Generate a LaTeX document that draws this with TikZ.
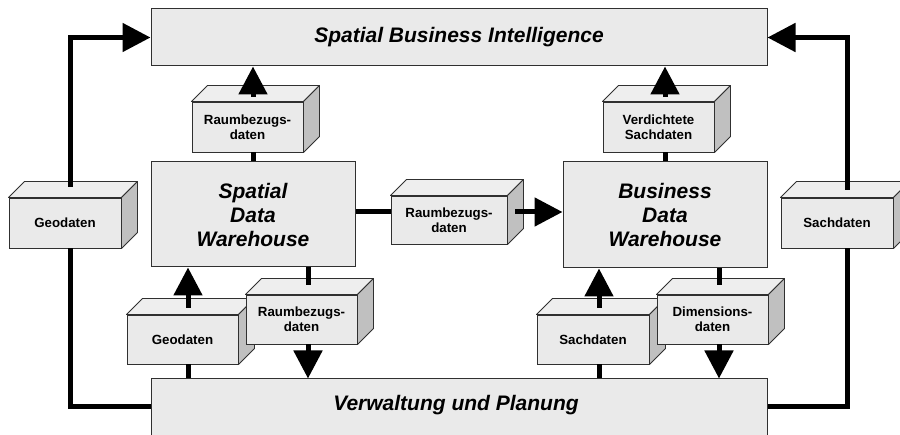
\documentclass[tikz,border=0pt]{standalone}
\usepackage{fontspec}
\setmainfont{Liberation Sans}
\usetikzlibrary{arrows.meta}
\definecolor{facegray}{HTML}{EAEAEA}
\definecolor{topgray}{HTML}{EEEEEE}
\definecolor{sidegray}{HTML}{C0C0C0}
\definecolor{edgegray}{HTML}{303030}
\newcommand{\bigfont}{\fontsize{21}{24}\selectfont\bfseries\itshape}
\newcommand{\smallfont}{\fontsize{13.3}{15}\selectfont\bfseries}
\newcommand{\cubebox}[6]{%
  \node[cube, minimum width=#4pt, minimum height=#5pt] (#1) at (#2,#3) {#6};
  \filldraw[topface] (#1.north west) -- ([shift={(16,-16)}]#1.north west) -- ([shift={(16,-16)}]#1.north east) -- (#1.north east) -- cycle;
  \filldraw[sideface] (#1.north east) -- ([shift={(16,-16)}]#1.north east) -- ([shift={(16,-16)}]#1.south east) -- (#1.south east) -- cycle;
}
\begin{document}
\begin{tikzpicture}[x=1pt,y=-1pt,
  bigbox/.style={rectangle, fill=facegray, draw=edgegray, line width=1pt, inner sep=0pt, align=center, font=\bigfont},
  cube/.style={rectangle, fill=facegray, draw=edgegray, line width=0.9pt, inner sep=1pt, align=center, font=\smallfont},
  topface/.style={fill=topgray, draw=edgegray, line width=0.9pt, line join=round},
  sideface/.style={fill=sidegray, draw=edgegray, line width=0.9pt, line join=round},
  conn/.style={line width=5pt, black},
  arr/.style={conn, -{Triangle[length=28pt,width=28pt]}}]
\useasboundingbox (0,0) rectangle (900,435);
% big boxes
\node[bigbox, minimum width=616pt, minimum height=57pt] (SBI) at (459,37.5) {Spatial Business Intelligence};
\node[bigbox, minimum width=204pt, minimum height=105pt] (SDW) at (253,214.5) {Spatial\\Data\\Warehouse};
\node[bigbox, minimum width=204pt, minimum height=106pt] (BDW) at (665,215) {Business\\Data\\Warehouse};
\node[bigbox, minimum width=616pt, minimum height=66pt] (VP) at (459,412) {};
\node[font=\bigfont, inner sep=0pt] (VPtext) at (456,405) {Verwaltung und Planung};
% cubes
\cubebox{rz1}{247.5}{127}{111}{50}{Raumbezugs-\\daten}
\cubebox{vs}{658.5}{127}{111}{50}{Verdichtete\\Sachdaten}
\cubebox{geol}{65}{223}{112}{50}{Geodaten}
\cubebox{sachr}{837}{223}{112}{50}{Sachdaten}
\cubebox{rzm}{449}{220}{116}{48}{Raumbezugs-\\daten}
\cubebox{geob}{182.5}{339.5}{111}{49}{Geodaten}
\cubebox{rzb}{301.5}{319.5}{111}{49}{Raumbezugs-\\daten}
\cubebox{sachb}{593}{339.5}{112}{49}{Sachdaten}
\cubebox{dimb}{712.5}{319.5}{111}{49}{Dimensions-\\daten}
% connectors
\coordinate (gl1) at (70,187);
\draw[arr] (gl1) |- (SBI.west);
\draw[conn] (geol.south -| gl1) |- ([yshift=5pt]VP.west);
\coordinate (sr1) at (847,190);
\draw[arr] (sr1) |- (SBI.east);
\draw[conn] (sachr.south -| sr1) |- ([yshift=5pt]VP.east);
\coordinate (a1) at (253,97);
\draw[arr] (a1) -- (a1 |- SBI.south);
\draw[conn] (SDW.north) -- (SDW.north |- rz1.south);
\coordinate (a2) at (665,97);
\draw[arr] (a2) -- (a2 |- SBI.south);
\draw[conn] (BDW.north) -- (BDW.north |- vs.south);
\coordinate (m0) at (0,212);
\draw[conn] (SDW.east |- m0) -- (rzm.west |- m0);
\coordinate (m1) at (515,212);
\draw[arr] (m1) -- (BDW.west |- m1);
\coordinate (b1) at (188,308);
\draw[arr] (b1) -- (b1 |- SDW.south);
\draw[conn] (geob.south -| b1) -- (VP.north -| b1);
\coordinate (b2) at (308,285);
\draw[conn] (SDW.south -| b2) -- (b2);
\draw[arr] (rzb.south -| b2) -- (VP.north -| b2);
\coordinate (b3) at (599,308);
\draw[arr] (b3) -- (b3 |- BDW.south);
\draw[conn] (sachb.south -| b3) -- (VP.north -| b3);
\coordinate (b4) at (719,285);
\draw[conn] (BDW.south -| b4) -- (b4);
\draw[arr] (dimb.south -| b4) -- (VP.north -| b4);
\end{tikzpicture}
\end{document}
